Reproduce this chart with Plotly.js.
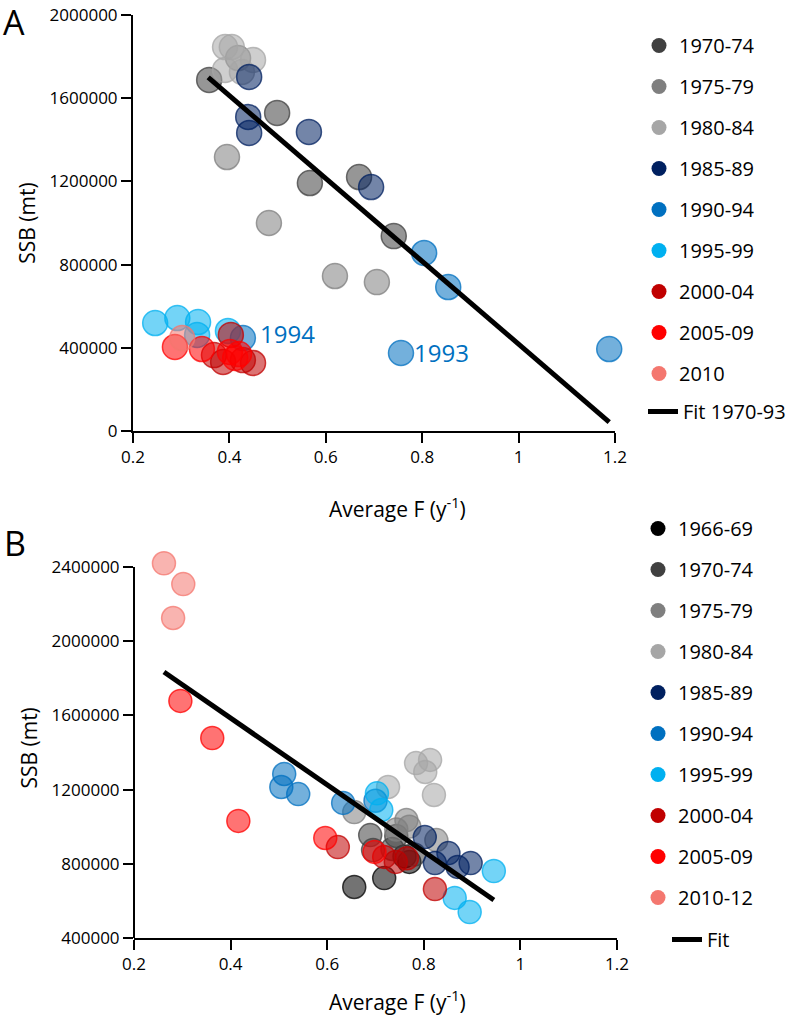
<!DOCTYPE html>
<html>
<head>
<meta charset="utf-8">
<script src="https://cdn.plot.ly/plotly-3.0.1.min.js"></script>
<style>html,body{margin:0;padding:0;background:#fff;}#chart{width:796px;height:1020px;}</style>
</head>
<body>
<div id="chart"></div>
<script>
// ---------- Panel A data ----------
const A_groups = ['1970-74','1975-79','1980-84','1985-89','1990-94','1995-99','2000-04','2005-09','2010'];
const A_F_1970_74 = [0.358, 0.499, 0.567, 0.669, 0.741];
const A_SSB_1970_74 = [1688000, 1529000, 1192000, 1221000, 937000];
const A_F_1975_79 = [0.418, 0.395, 0.482, 0.619, 0.706];
const A_SSB_1975_79 = [1793000, 1317000, 1000000, 745000, 716000];
const A_F_1980_84 = [0.391, 0.405, 0.449, 0.391, 0.426];
const A_SSB_1980_84 = [1846000, 1846000, 1784000, 1736000, 1726000];
const A_F_1985_89 = [0.441, 0.439, 0.441, 0.565, 0.694];
const A_SSB_1985_89 = [1702000, 1510000, 1433000, 1438000, 1173000];
const A_F_1990_94 = [0.804, 0.854, 1.188, 0.756, 0.428];
const A_SSB_1990_94 = [856000, 692000, 394000, 375000, 447000];
const A_F_1995_99 = [0.246, 0.292, 0.335, 0.333, 0.397];
const A_SSB_1995_99 = [519000, 543000, 524000, 462000, 481000];
const A_F_2000_04 = [0.403, 0.368, 0.387, 0.449, 0.428];
const A_SSB_2000_04 = [462000, 365000, 332000, 327000, 341000];
const A_F_2005_09 = [0.287, 0.343, 0.401, 0.412, 0.420];
const A_SSB_2005_09 = [404000, 394000, 380000, 351000, 370000];
const A_F_2010 = [0.302];
const A_SSB_2010 = [447000];
const A_fit_F = [0.356, 1.188];
const A_fit_SSB = [1700000, 43000];
const A_labels = ['1993', '1994'];

// ---------- Panel B data ----------
const B_groups = ['1966-69','1970-74','1975-79','1980-84','1985-89','1990-94','1995-99','2000-04','2005-09','2010-12'];
const B_F_1966_69 = [0.656, 0.718, 0.770, 0.760];
const B_SSB_1966_69 = [675000, 723000, 810000, 840000];
const B_F_1970_74 = [0.689, 0.743, 0.695, 0.735, 0.780];
const B_SSB_1970_74 = [955000, 950000, 874000, 880000, 850000];
const B_F_1975_79 = [0.656, 0.764, 0.743, 0.826, 0.770];
const B_SSB_1975_79 = [1079000, 1036000, 985000, 928000, 1000000];
const B_F_1980_84 = [0.784, 0.813, 0.803, 0.726, 0.821];
const B_SSB_1980_84 = [1343000, 1360000, 1295000, 1214000, 1171000];
const B_F_1985_89 = [0.802, 0.851, 0.823, 0.870, 0.897];
const B_SSB_1985_89 = [944000, 858000, 804000, 783000, 804000];
const B_F_1990_94 = [0.511, 0.505, 0.540, 0.633, 0.700];
const B_SSB_1990_94 = [1284000, 1214000, 1176000, 1128000, 1140000];
const B_F_1995_99 = [0.703, 0.712, 0.945, 0.864, 0.895];
const B_SSB_1995_99 = [1180000, 1090000, 761000, 616000, 540000];
const B_F_2000_04 = [0.622, 0.718, 0.742, 0.765, 0.823];
const B_SSB_2000_04 = [890000, 837000, 810000, 830000, 664000];
const B_F_2005_09 = [0.296, 0.362, 0.416, 0.596, 0.698];
const B_SSB_2005_09 = [1678000, 1478000, 1031000, 939000, 864000];
const B_F_2010_12 = [0.262, 0.302, 0.281];
const B_SSB_2010_12 = [2420000, 2308000, 2125000];
const B_fit_F = [0.262, 0.945];
const B_fit_SSB = [1834000, 605000];

const xTicks = [0.2, 0.4, 0.6, 0.8, 1, 1.2];
const xTickText = ['0.2', '0.4', '0.6', '0.8', '1', '1.2'];
const yTicksA = [0, 400000, 800000, 1200000, 1600000, 2000000];
const yTicksB = [400000, 800000, 1200000, 1600000, 2000000, 2400000];

const colors = {
  '1966-69': [0,0,0], '1970-74': [64,64,64], '1975-79': [127,127,127], '1980-84': [166,166,166],
  '1985-89': [0,32,96], '1990-94': [0,112,192], '1995-99': [0,176,240],
  '2000-04': [192,0,0], '2005-09': [255,0,0], '2010': [244,119,111], '2010-12': [244,119,111]
};
const rgba = (c, a) => `rgba(${c[0]},${c[1]},${c[2]},${a})`;
const FONT = 'Open Sans, Noto Sans, sans-serif';

const A_series = [
  [A_F_1970_74, A_SSB_1970_74], [A_F_1975_79, A_SSB_1975_79], [A_F_1980_84, A_SSB_1980_84],
  [A_F_1985_89, A_SSB_1985_89], [A_F_1990_94, A_SSB_1990_94], [A_F_1995_99, A_SSB_1995_99],
  [A_F_2000_04, A_SSB_2000_04], [A_F_2005_09, A_SSB_2005_09], [A_F_2010, A_SSB_2010]
];
const B_series = [
  [B_F_1966_69, B_SSB_1966_69], [B_F_1970_74, B_SSB_1970_74], [B_F_1975_79, B_SSB_1975_79],
  [B_F_1980_84, B_SSB_1980_84], [B_F_1985_89, B_SSB_1985_89], [B_F_1990_94, B_SSB_1990_94],
  [B_F_1995_99, B_SSB_1995_99], [B_F_2000_04, B_SSB_2000_04], [B_F_2005_09, B_SSB_2005_09],
  [B_F_2010_12, B_SSB_2010_12]
];

const traces = [];
function addPanel(groups, series, xa, ya, size, legendId, fitF, fitSSB, fitName, fitLegend) {
  groups.forEach((g, i) => {
    const c = colors[g];
    traces.push({
      type: 'scatter', mode: 'markers', x: series[i][0], y: series[i][1],
      xaxis: xa, yaxis: ya, name: g, showlegend: false, cliponaxis: false,
      marker: { size: size, color: rgba(c, 0.55), line: { color: rgba(c, 0.75), width: 1.5 } },
      hoverinfo: 'x+y+name'
    });
    traces.push({
      type: 'scatter', mode: 'markers', x: [null], y: [null], xaxis: xa, yaxis: ya,
      name: g, legend: legendId, legendgroup: legendId + g, showlegend: true,
      marker: { size: 15, color: rgba(c, 1) }
    });
  });
  traces.push({
    type: 'scatter', mode: 'lines', x: fitF, y: fitSSB, xaxis: xa, yaxis: ya,
    name: fitName, legend: fitLegend, showlegend: true, cliponaxis: false,
    line: { color: '#000', width: 5 }
  });
}
addPanel(A_groups, A_series, 'x', 'y', 25, 'legend', A_fit_F, A_fit_SSB, 'Fit 1970-93', 'legend2');
addPanel(B_groups, B_series, 'x2', 'y2', 23, 'legend3', B_fit_F, B_fit_SSB, 'Fit', 'legend4');

const W = 796, H = 1020;
// panel B: 400000 at y=938px, 2400000 at y=567px; range extended a little above the top tick
const B_pxPerUnit = (938 - 567) / 2000000;
const B_yMax = 2450000;
const B_topPx = 938 - (B_yMax - 400000) * B_pxPerUnit;

const axisBase = {
  showline: true, linecolor: '#000', linewidth: 2, ticks: 'outside', ticklen: 10, tickwidth: 2,
  tickcolor: '#000', showgrid: false, zeroline: false, fixedrange: true,
  tickfont: { family: FONT, size: 17, color: '#000' }
};
const legBase = {
  font: { family: FONT, size: 20, color: '#000' }, bgcolor: 'rgba(0,0,0,0)',
  traceorder: 'grouped', tracegroupgap: 12, xanchor: 'left', yanchor: 'top'
};

const layout = {
  width: W, height: H, margin: { l: 0, r: 0, t: 0, b: 0 },
  paper_bgcolor: '#fff', plot_bgcolor: '#fff',
  xaxis: Object.assign({}, axisBase, { domain: [133 / W, 615 / W], range: [0.2, 1.2], anchor: 'y',
    tickvals: xTicks, ticktext: xTickText }),
  yaxis: Object.assign({}, axisBase, { domain: [1 - 431 / H, 1 - 15 / H], range: [0, 2000000], anchor: 'x',
    tickvals: yTicksA, tickformat: 'd',
    title: { text: 'SSB (mt)', font: { family: FONT, size: 21, color: '#000' }, standoff: 8 } }),
  xaxis2: Object.assign({}, axisBase, { domain: [134 / W, 617 / W], range: [0.2, 1.2], anchor: 'y2',
    tickvals: xTicks, ticktext: xTickText }),
  yaxis2: Object.assign({}, axisBase, { domain: [1 - 938 / H, 1 - B_topPx / H], range: [400000, B_yMax], anchor: 'x2',
    showline: false, tickvals: yTicksB, tickformat: 'd',
    title: { text: 'SSB (mt)', font: { family: FONT, size: 21, color: '#000' }, standoff: 8 } }),
  shapes: [
    { type: 'line', xref: 'x2 domain', yref: 'y2', x0: 0, x1: 0, y0: yTicksB[0], y1: yTicksB[yTicksB.length - 1],
      line: { color: '#000', width: 2 }, layer: 'below' }
  ],
  legend: Object.assign({}, legBase, { x: 639 / W, y: 1 - 26 / H }),
  legend2: Object.assign({}, legBase, { x: 643 / W, y: 1 - 392 / H }),
  legend3: Object.assign({}, legBase, { x: 638 / W, y: 1 - 509 / H }),
  legend4: Object.assign({}, legBase, { x: 667 / W, y: 1 - 920 / H }),
  annotations: [
    { xref: 'paper', yref: 'paper', x: 14 / W, y: 1 - 22 / H, text: 'A', showarrow: false,
      xanchor: 'center', yanchor: 'middle', font: { family: FONT, size: 34, color: '#000' } },
    { xref: 'paper', yref: 'paper', x: 15 / W, y: 1 - 543 / H, text: 'B', showarrow: false,
      xanchor: 'center', yanchor: 'middle', font: { family: FONT, size: 34, color: '#000' } },
    { xref: 'paper', yref: 'paper', x: 397 / W, y: 1 - 507 / H, text: 'Average F (y<sup>-1</sup>)', showarrow: false,
      xanchor: 'center', yanchor: 'middle', font: { family: FONT, size: 21, color: '#000' } },
    { xref: 'paper', yref: 'paper', x: 397 / W, y: 1 - 1000 / H, text: 'Average F (y<sup>-1</sup>)', showarrow: false,
      xanchor: 'center', yanchor: 'middle', font: { family: FONT, size: 21, color: '#000' } },
    { xref: 'x', yref: 'y', x: A_F_1990_94[3], y: A_SSB_1990_94[3], text: A_labels[0], showarrow: false,
      xanchor: 'left', yanchor: 'middle', xshift: 11, yshift: 0, font: { family: FONT, size: 24, color: '#0070c0' } },
    { xref: 'x', yref: 'y', x: A_F_1990_94[4], y: A_SSB_1990_94[4], text: A_labels[1], showarrow: false,
      xanchor: 'left', yanchor: 'middle', xshift: 15, yshift: 5, font: { family: FONT, size: 24, color: '#0070c0' } }
  ]
};

Plotly.newPlot('chart', traces, layout, { staticPlot: true, displayModeBar: false });
</script>
</body>
</html>
